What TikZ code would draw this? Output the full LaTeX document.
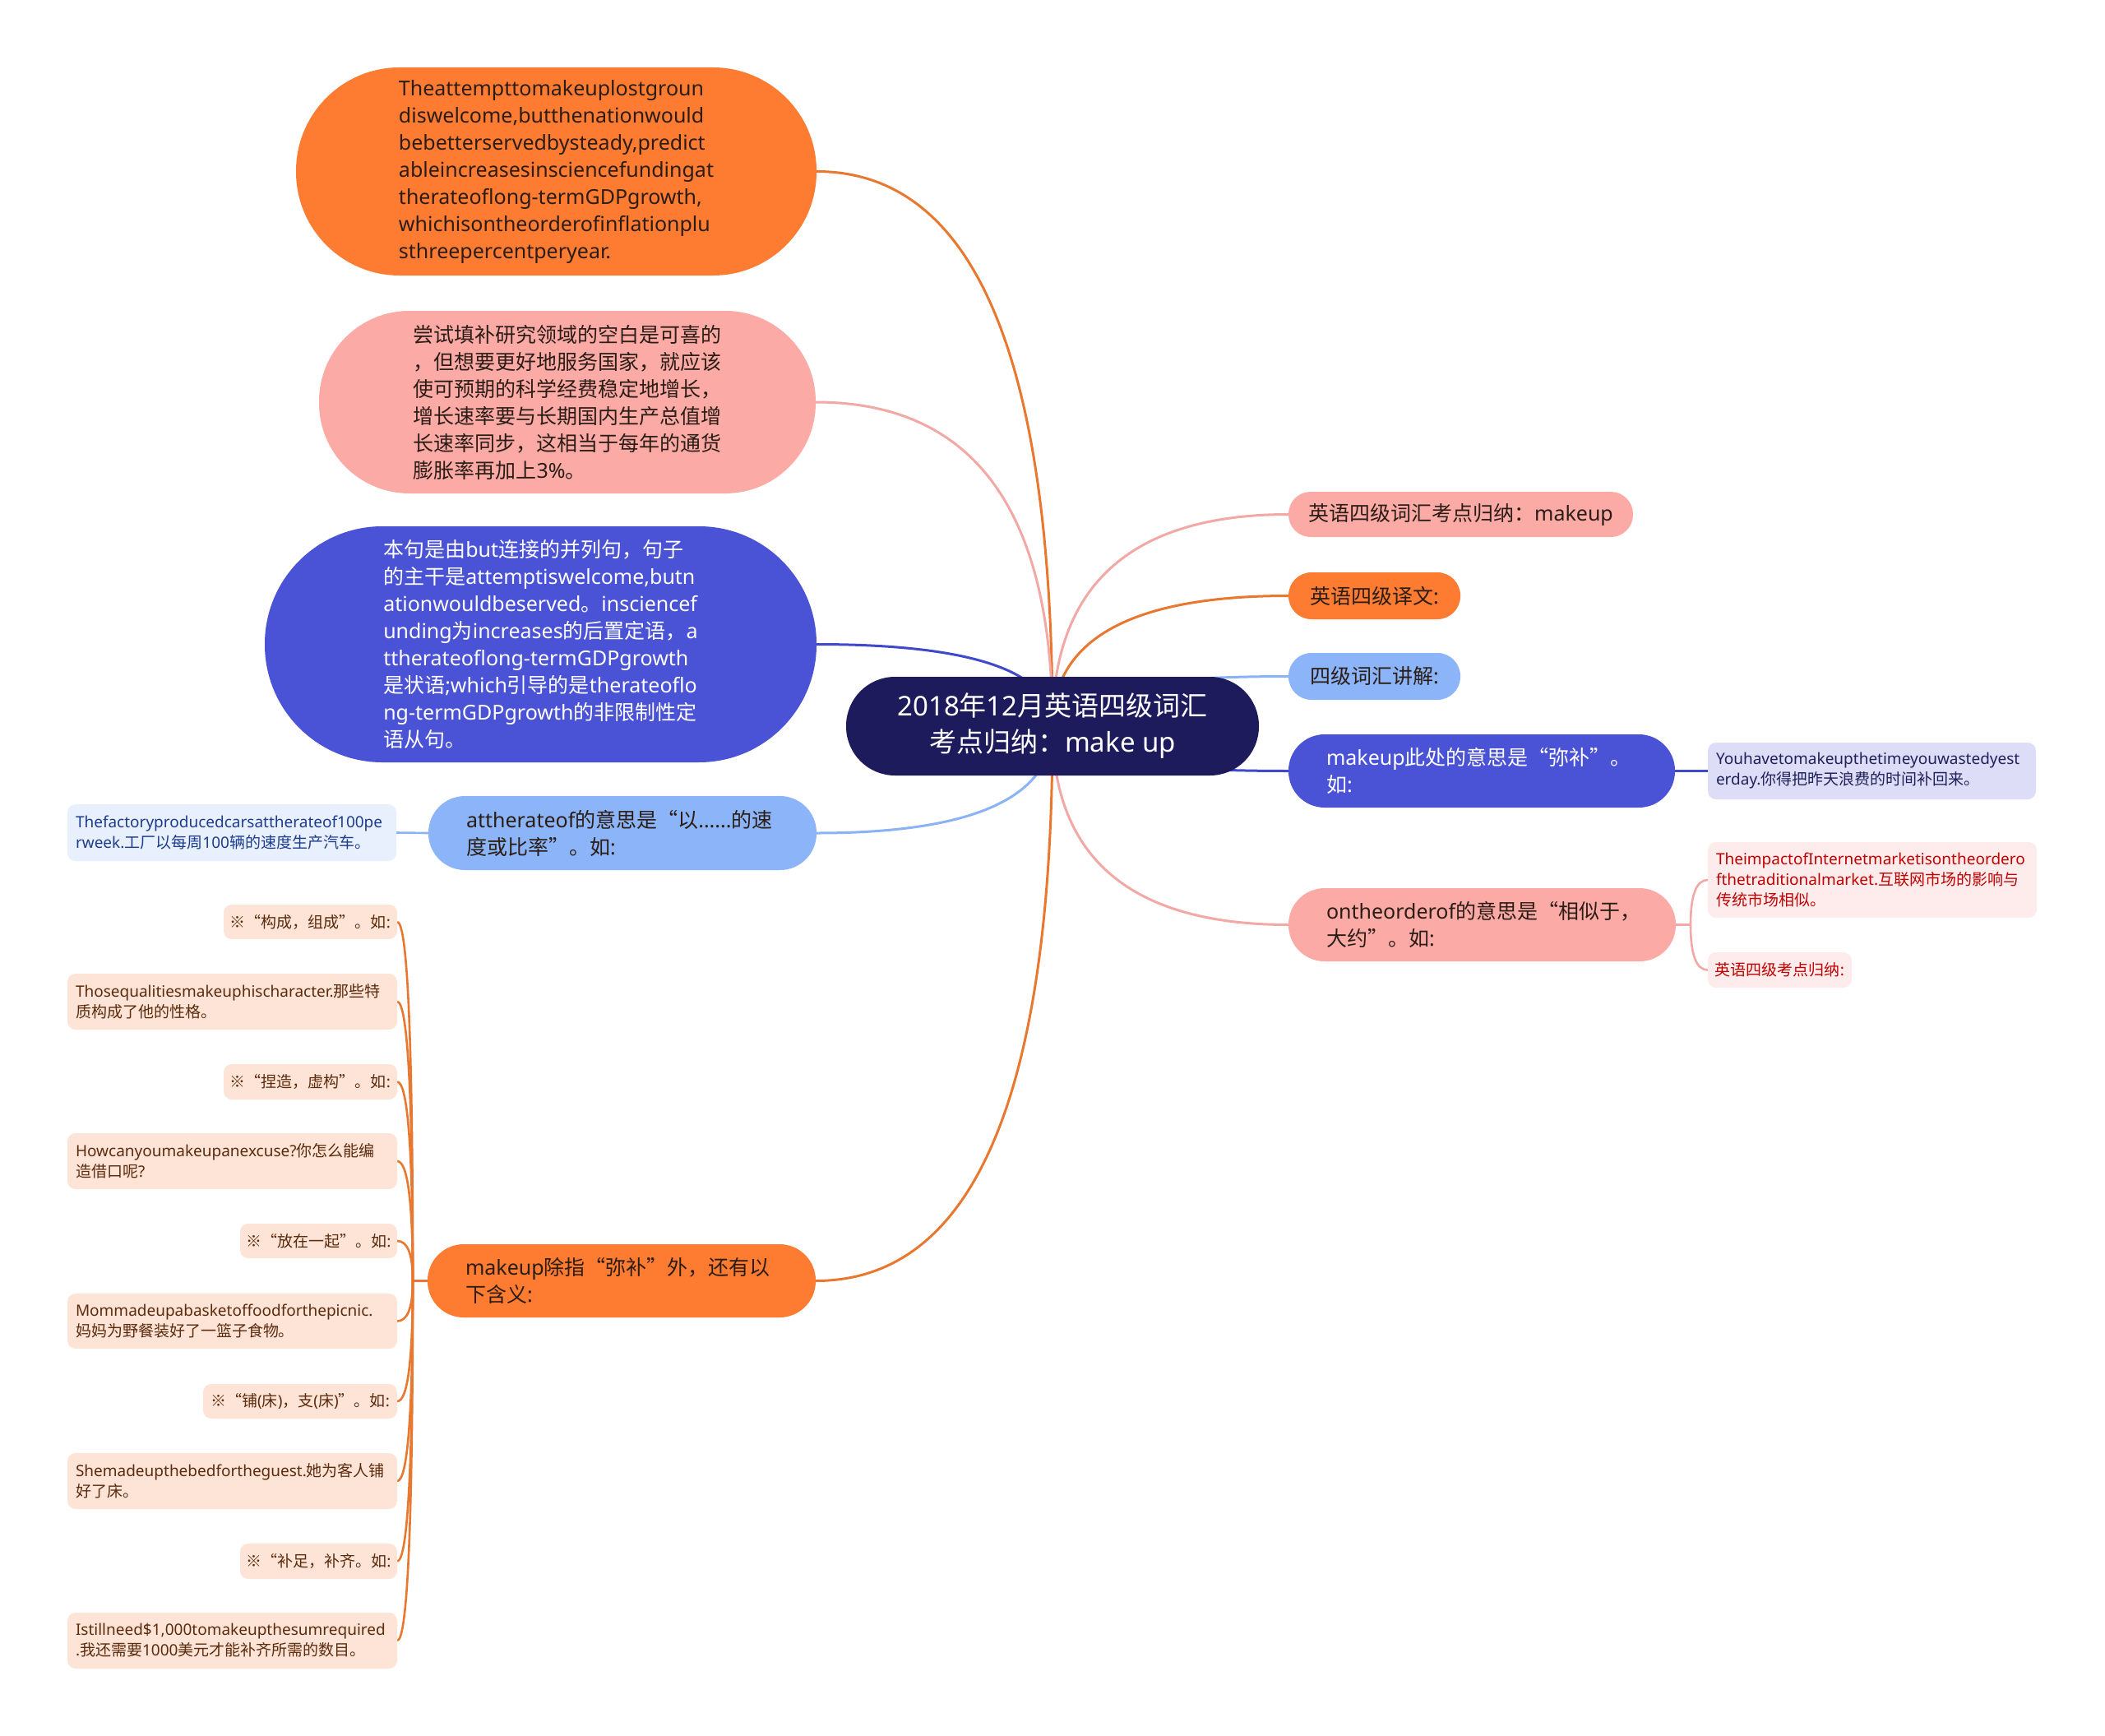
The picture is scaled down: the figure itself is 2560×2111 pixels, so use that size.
\documentclass[tikz,border=0pt]{standalone}
\usepackage{fontspec}
\setmainfont{Noto Sans CJK SC}
\newfontfamily\latfont{Noto Sans}
\newcommand\latx[1]{{\latfont #1}}
\usetikzlibrary{calc}
\pgfdeclarelayer{bg}
\pgfsetlayers{bg,main}
\hyphenpenalty=10000
\exhyphenpenalty=10000
\definecolor{cnavy}{HTML}{1D1B5C}
\definecolor{corange}{HTML}{FD7C32}
\definecolor{cpink}{HTML}{FBAAA6}
\definecolor{cblue}{HTML}{4A52D6}
\definecolor{clblue}{HTML}{8BB5F8}
\definecolor{cdark}{HTML}{2B1D16}
\definecolor{corangel}{HTML}{E8772F}
\definecolor{cpinkl}{HTML}{F2A9A5}
\definecolor{cbluel}{HTML}{4049C9}
\definecolor{clbluel}{HTML}{8AB3F5}
\definecolor{lbleaf}{HTML}{E8F0FE}
\definecolor{lbtext}{HTML}{1E3C8C}
\definecolor{lavleaf}{HTML}{DDDDF8}
\definecolor{lavtext}{HTML}{20205A}
\definecolor{redleaf}{HTML}{FDECEB}
\definecolor{redtext}{HTML}{C00000}
\definecolor{peach}{HTML}{FDE4D6}
\definecolor{peachtext}{HTML}{5B2B0E}
\newcommand\mmlink[3]{%
  \coordinate (mmc) at (#2 |- #3);
  \draw[#1] (#2) .. controls ($(#2)!0.6667!(mmc)$) and ($(#3)!0.6667!(mmc)$) .. (#3);
}
\tikzset{
  nd/.style={inner sep=0pt, outer sep=0pt, align=left},
  bigf/.style={font=\fontsize{25}{33}\selectfont},
  leaff/.style={font=\fontsize{19}{25}\selectfont},
  leafbox/.style={nd, leaff, rounded corners=10pt},
  peachbox/.style={leafbox, fill=peach, text=peachtext},
  conn/.style={line width=3pt},
  leafconn/.style={line width=2.6pt},
}
\begin{document}
\begin{tikzpicture}[x=1pt, y=-1pt]
\useasboundingbox (0,0) rectangle (2560,2111);
% center
\node[nd, fill=cnavy, text=white, minimum width=502pt, minimum height=120pt, rounded corners=59.5pt, font=\fontsize{33}{44}\selectfont, align=center] (C) at (1280,883)
 {\latx{2018}年\latx{12}月英语四级词汇\\考点归纳：\latx{make up}};
% left big nodes
\node[nd, fill=corange, text=cdark, minimum width=633pt, minimum height=253pt, rounded corners=126pt, font=\fontsize{25}{33}\selectfont\latfont] (ob) at (676.5,208.5)
 {Theattempttomakeuplostgroun\\diswelcome,butthenationwould\\bebetterservedbysteady,predict\\ableincreasesinsciencefundingat\\therateoflong-termGDPgrowth,\\whichisontheorderofinflationplu\\sthreepercentperyear.};
\node[nd, bigf, fill=cpink, text=cdark, minimum width=604pt, minimum height=222pt, rounded corners=110pt] (pb) at (690,489)
 {尝试填补研究领域的空白是可喜的\\，但想要更好地服务国家，就应该\\使可预期的科学经费稳定地增长，\\增长速率要与长期国内生产总值增\\长速率同步，这相当于每年的通货\\膨胀率再加上\latx{3\%}。};
\node[nd, bigf, fill=cblue, text=white, minimum width=671pt, minimum height=287pt, rounded corners=143pt] (bb) at (657.5,783.5)
 {本句是由\latx{but}连接的并列句，句子\\的主干是\latx{attemptiswelcome,butn}\\\latx{ationwouldbeserved}。\latx{insciencef}\\\latx{unding}为\latx{increases}的后置定语，\latx{a}\\\latx{ttherateoflong-termGDPgrowth}\\是状语\latx{;which}引导的是\latx{therateoflo}\\\latx{ng-termGDPgrowth}的非限制性定\\语从句。};
\node[nd, bigf, fill=clblue, text=cdark, minimum width=472pt, minimum height=90pt, rounded corners=44.5pt, text width=380pt] (lb1) at (757,1013)
 {\latx{attherateof}的意思是“以\latx{......}的速\\度或比率”。如\latx{:}};
\node[nd, bigf, fill=corange, text=cdark, minimum width=472pt, minimum height=89pt, rounded corners=44pt, text width=380pt] (o2) at (756,1557.5)
 {\latx{makeup}除指“弥补”外，还有以\\下含义\latx{:}};
% right nodes
\node[nd, bigf, fill=cpink, text=cdark, minimum width=419pt, minimum height=55pt, rounded corners=27pt, align=center] (r1) at (1776.5,625.5)
 {英语四级词汇考点归纳：\latx{makeup}};
\node[nd, bigf, fill=corange, text=cdark, minimum width=209pt, minimum height=57pt, rounded corners=28pt, align=center] (r2) at (1671.5,724.5)
 {英语四级译文\latx{:}};
\node[nd, bigf, fill=clblue, text=cdark, minimum width=209pt, minimum height=57pt, rounded corners=28pt, align=center] (r3) at (1671.5,822.5)
 {四级词汇讲解\latx{:}};
\node[nd, bigf, fill=cblue, text=white, minimum width=470pt, minimum height=89pt, rounded corners=44pt, text width=378pt] (r4) at (1802,937.5)
 {\latx{makeup}此处的意思是“弥补”。\\如\latx{:}};
\node[nd, bigf, fill=cpink, text=cdark, minimum width=471pt, minimum height=89pt, rounded corners=44pt, text width=379pt] (r5) at (1802.5,1124.5)
 {\latx{ontheorderof}的意思是“相似于，\\大约”。如\latx{:}};
% leaves
\node[leafbox, fill=lbleaf, text=lbtext, minimum width=400pt, minimum height=69pt, text width=380pt] (llb) at (282,1012.5)
 {\latx{Thefactoryproducedcarsattherateof100pe}\\\latx{rweek.}工厂以每周\latx{100}辆的速度生产汽车。};
\node[leafbox, fill=lavleaf, text=lavtext, minimum width=399pt, minimum height=69pt, text width=379pt] (lav) at (2276.5,937.5)
 {\latx{Youhavetomakeupthetimeyouwastedyest}\\\latx{erday.}你得把昨天浪费的时间补回来。};
\node[leafbox, fill=redleaf, text=redtext, minimum width=400pt, minimum height=92pt, text width=380pt] (red1) at (2277,1070)
 {\latx{TheimpactofInternetmarketisontheordero}\\\latx{fthetraditionalmarket.}互联网市场的影响与\\传统市场相似。};
\node[leafbox, fill=redleaf, text=redtext, minimum width=175pt, minimum height=43pt, align=center] (red2) at (2164.5,1179.5)
 {英语四级考点归纳\latx{:}};
\node[peachbox, minimum width=211pt, minimum height=42pt, align=center] (k1) at (377.5,1121) {※“构成，组成”。如\latx{:}};
\node[peachbox, minimum width=401pt, minimum height=68pt, text width=381pt] (k2) at (282.5,1218)
 {\latx{Thosequalitiesmakeuphischaracter.}那些特\\质构成了他的性格。};
\node[peachbox, minimum width=211pt, minimum height=43pt, align=center] (k3) at (377.5,1315.5) {※“捏造，虚构”。如\latx{:}};
\node[peachbox, minimum width=401pt, minimum height=68pt, text width=381pt] (k4) at (282.5,1412)
 {\latx{Howcanyoumakeupanexcuse?}你怎么能编\\造借口呢\latx{?}};
\node[peachbox, minimum width=191pt, minimum height=42pt, align=center] (k5) at (387.5,1509) {※“放在一起”。如\latx{:}};
\node[peachbox, minimum width=401pt, minimum height=67pt, text width=381pt] (k6) at (282.5,1606.5)
 {\latx{Mommadeupabasketoffoodforthepicnic.}\\妈妈为野餐装好了一篮子食物。};
\node[peachbox, minimum width=236pt, minimum height=42pt, align=center] (k7) at (365,1704) {※“铺\latx{(}床\latx{)}，支\latx{(}床\latx{)}”。如\latx{:}};
\node[peachbox, minimum width=401pt, minimum height=68pt, text width=381pt] (k8) at (282.5,1801)
 {\latx{Shemadeupthebedfortheguest.}她为客人铺\\好了床。};
\node[peachbox, minimum width=191pt, minimum height=43pt, align=center] (k9) at (387.5,1898.5) {※“补足，补齐。如\latx{:}};
\node[peachbox, minimum width=401pt, minimum height=68pt, text width=381pt] (k10) at (282.5,1995)
 {\latx{Istillneed\$1,000tomakeupthesumrequired}\\\latx{.}我还需要\latx{1000}美元才能补齐所需的数目。};
% connectors
\begin{pgfonlayer}{bg}
\fill[white] (0,0) rectangle (2560,2111);
\mmlink{conn, corangel}{C.center}{ob.east}
\mmlink{conn, cpinkl}{C.center}{pb.east}
\mmlink{conn, cbluel}{C.center}{bb.east}
\mmlink{conn, clbluel}{C.center}{lb1.east}
\mmlink{conn, corangel}{C.center}{o2.east}
\mmlink{conn, cpinkl}{C.center}{r1.west}
\mmlink{conn, corangel}{C.center}{r2.west}
\mmlink{conn, clbluel}{C.center}{r3.west}
\mmlink{conn, cbluel}{C.center}{r4.west}
\mmlink{conn, cpinkl}{C.center}{r5.west}
\draw[leafconn, clbluel] (lb1.west) -- (llb.east);
\draw[leafconn, cbluel] (r4.east) -- (lav.west);
\coordinate (rt) at ($(r5.east)+(18,0)$);
\draw[leafconn, cpinkl] (r5.east) -- (rt);
\mmlink{leafconn, cpinkl}{rt}{red1.west}
\mmlink{leafconn, cpinkl}{rt}{red2.west}
\coordinate (lt) at ($(o2.west)+(-18,0)$);
\draw[leafconn, corangel] (o2.west) -- (lt);
\foreach \kk in {k1,k2,k3,k4,k5,k6,k7,k8,k9,k10}{
  \mmlink{leafconn, corangel}{lt}{\kk.east}
}
\end{pgfonlayer}
\end{tikzpicture}
\end{document}
